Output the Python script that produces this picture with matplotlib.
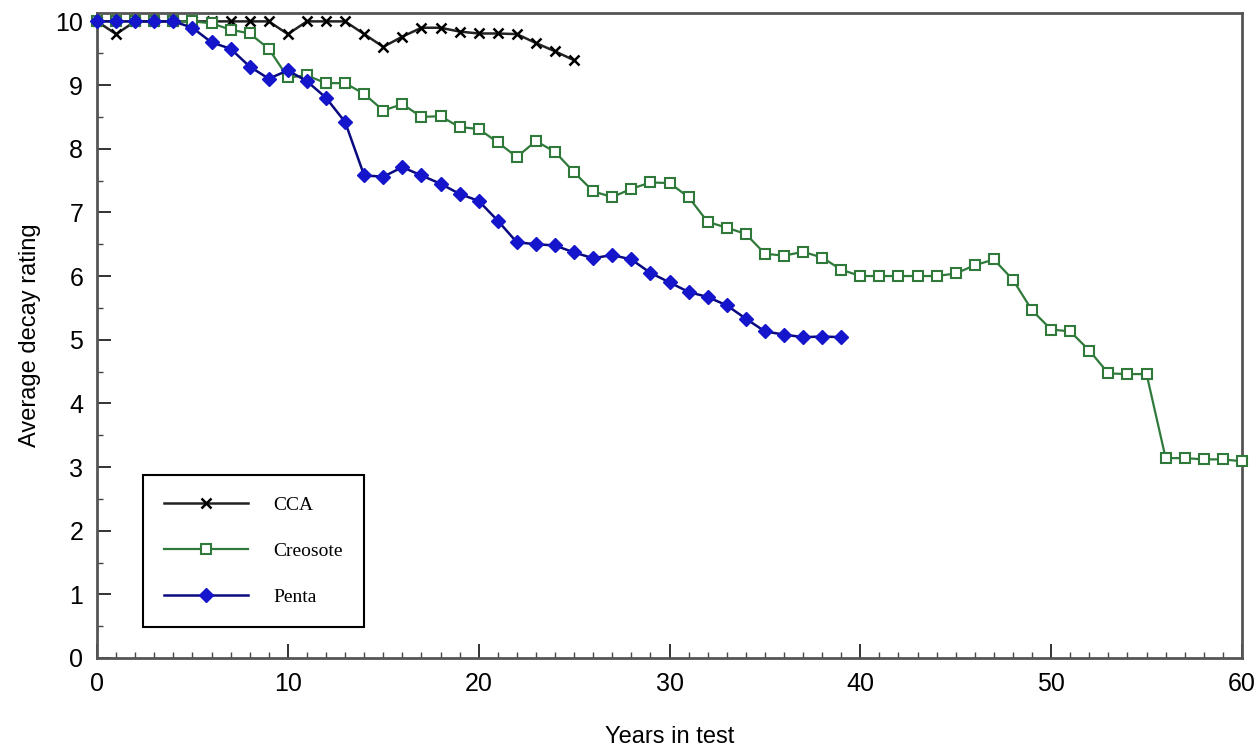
import matplotlib.pyplot as plt
from matplotlib.ticker import MultipleLocator

# decay ratings, one value per year in test
cca_years = list(range(0, 26))
cca_rating = [10.0, 9.8, 10.0, 10.0, 10.0, 10.0, 10.0, 10.0, 10.0, 10.0,
              9.8, 10.0, 10.0, 10.0, 9.8, 9.6, 9.76, 9.9, 9.9, 9.84,
              9.81, 9.81, 9.8, 9.66, 9.53, 9.39]

creosote_years = list(range(0, 61))
creosote_rating = [10.0, 10.0, 10.0, 10.0, 10.0, 10.0, 9.97, 9.87, 9.81, 9.57,
                   9.12, 9.15, 9.03, 9.03, 8.86, 8.6, 8.7, 8.5, 8.51, 8.34,
                   8.31, 8.1, 7.87, 8.12, 7.95, 7.63, 7.33, 7.24, 7.37, 7.47,
                   7.46, 7.24, 6.85, 6.76, 6.66, 6.35, 6.32, 6.38, 6.29, 6.1,
                   6.0, 6.0, 6.0, 6.0, 6.0, 6.04, 6.17, 6.26, 5.94, 5.46,
                   5.16, 5.13, 4.83, 4.47, 4.46, 4.46, 3.14, 3.14, 3.12, 3.12,
                   3.09]

penta_years = list(range(0, 40))
penta_rating = [10.0, 10.0, 10.0, 10.0, 10.0, 9.9, 9.67, 9.57, 9.29, 9.1,
                9.23, 9.06, 8.8, 8.42, 7.58, 7.56, 7.71, 7.58, 7.45, 7.29,
                7.18, 6.87, 6.53, 6.5, 6.48, 6.37, 6.28, 6.33, 6.26, 6.05,
                5.9, 5.75, 5.67, 5.54, 5.33, 5.13, 5.08, 5.04, 5.05, 5.04]

plt.rcParams['font.family'] = ['Liberation Sans', 'DejaVu Sans']

fig = plt.figure(figsize=(12.6, 7.49), dpi=100)
ax = fig.add_axes([0.077, 0.1215, 0.9087, 0.861])

ax.plot(cca_years, cca_rating, color='#222222', lw=1.8, marker='x',
        ms=7, mew=1.8, mec='black', label='CCA', clip_on=False, zorder=3)
ax.plot(creosote_years, creosote_rating, color='#2f7a3a', lw=1.6, marker='s',
        ms=7.5, mew=1.5, mfc='white', mec='#2f7a3a', label='Creosote',
        clip_on=False, zorder=4)
ax.plot(penta_years, penta_rating, color='#0a0a80', lw=1.8, marker='D',
        ms=7.5, mfc='#1515cc', mec='#1515cc', label='Penta',
        clip_on=False, zorder=5)

ax.set_xlim(0, 60)
ax.set_ylim(0, 10.13)
ax.xaxis.set_major_locator(MultipleLocator(10))
ax.xaxis.set_minor_locator(MultipleLocator(1))
ax.yaxis.set_major_locator(MultipleLocator(1))
ax.yaxis.set_minor_locator(MultipleLocator(0.5))

ax.tick_params(which='major', direction='in', length=10, width=1.3,
               labelsize=18, color='#222222')
ax.tick_params(which='minor', direction='in', length=4, width=1.0,
               color='#444444')
ax.tick_params(axis='x', which='major', pad=10)
ax.tick_params(axis='y', which='major', pad=10)

for side in ['top', 'right', 'bottom', 'left']:
    ax.spines[side].set_linewidth(2.0)
    ax.spines[side].set_color('#555555')

ax.set_xlabel('Years in test', fontsize=17, labelpad=22)
ax.set_ylabel('Average decay rating', fontsize=17, labelpad=10)

leg = ax.legend(loc='lower left', bbox_to_anchor=(0.04, 0.048),
                borderaxespad=0, fancybox=False, framealpha=1,
                edgecolor='black', handlelength=4.3, handletextpad=1.3,
                borderpad=1.1, labelspacing=1.45,
                prop={'family': 'Liberation Serif', 'size': 14})
leg.get_frame().set_linewidth(1.5)

fig.savefig('out.png', dpi=100)
